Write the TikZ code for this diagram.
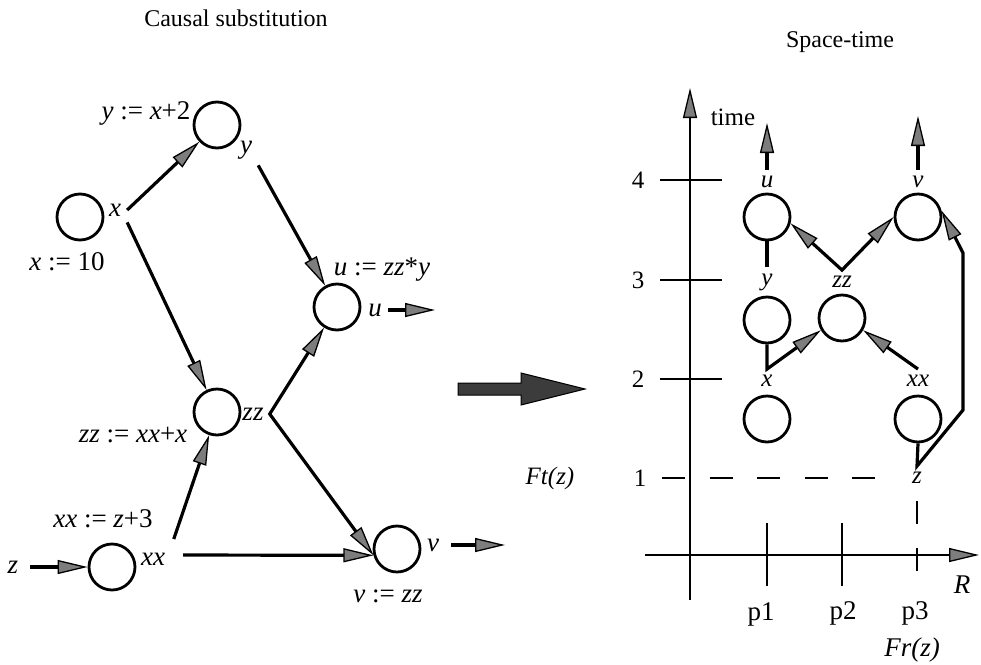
\documentclass[tikz,border=0pt]{standalone}
\usepackage{fontspec}
\setmainfont{Liberation Serif}
\usetikzlibrary{arrows.meta}
\definecolor{tipgray}{RGB}{125,125,125}
\definecolor{bigarrow}{RGB}{60,60,60}
\newcommand{\vn}[1]{\textit{#1}}

\begin{document}
\begin{tikzpicture}[x=1pt,y=-1pt,font=\fontsize{27}{31}\selectfont,
  gtip/.tip={Triangle[length=30pt,width=14pt,fill=tipgray,line width=1.3pt]},
  evt/.style={circle,draw,line width=2.8pt,minimum size=46pt,inner sep=0pt},
  tag/.style={inner sep=6pt},
  small/.style={font=\fontsize{25}{29}\selectfont},
  flow/.style={line width=3.2pt,-gtip},
  twoway/.style={line width=3.2pt,gtip-gtip},
  link/.style={line width=3.2pt},
  axis/.style={line width=2.8pt}]
\useasboundingbox (0,0) rectangle (981,664);

\node[font=\fontsize{24}{28}\selectfont] (ttlc) at (236,18) {Causal substitution};
\node[font=\fontsize{24}{28}\selectfont] (ttls) at (840,42) {Space-time};

\node[evt] (cx) at (80,217) {};
\node[evt] (cy) at (217,125) {};
\node[evt] (cu) at (337,307) {};
\node[evt] (czz) at (217,412) {};
\node[evt] (cxx) at (112,567) {};
\node[evt] (cv) at (397,549) {};

\node[tag] (tx) at (115,210) {\vn{x}};
\node (ax) at (67,262) {\vn{x} := 10};
\node (ay) at (146,113) {\vn{y} :=\ \vn{x}+2};
\node[tag] (ty) at (246,150) {\vn{y}};
\node (au) at (382,270) {\vn{u} := \vn{zz}*\vn{y}};
\node[tag] (tu) at (375,310) {\vn{u}};
\node[tag] (tzz) at (253,414) {\vn{zz}};
\node (azz) at (133,435) {\vn{zz} := \vn{xx}+\vn{x}};
\node (axx) at (103,519) {\vn{xx} := \vn{z}+3};
\node[tag] (txx) at (153,559) {\vn{xx}};
\node[tag] (tz) at (13,567) {\vn{z}};
\node[tag] (tv) at (433,545) {\vn{v}};
\node (av) at (388,596) {\vn{v} := \vn{zz}};

\coordinate (uout) at (435,310);
\coordinate (vout) at (505,545);
\draw[flow] (tx.east) -- (cy);
\draw[flow] (tx.south east) -- (czz);
\draw[flow] (ty.south east) -- (cu);
\draw[twoway] (cu) -- (tzz.east) -- (cv.195);
\draw[flow,shorten <=8pt] (txx.north east) -- (czz);
\draw[flow,shorten <=12pt] ([yshift=4pt]txx.east) -- (cv.195);
\draw[flow,shorten <=6pt] (tz.east) -- (cxx);
\draw[flow] (tu.east) -- (uout);
\draw[flow,shorten <=6pt] (tv.east) -- (vout);

\draw[fill=bigarrow,line width=1pt] (458,383) -- (521,383) -- (521,373) -- (585,389)
  -- (521,405) -- (521,395) -- (458,395) -- cycle;

\coordinate (tbot) at (690,600);
\coordinate (ttop) at (690,88);
\coordinate (rleft) at (645,555);
\coordinate (rright) at (979,555);
\draw[axis,-gtip] (tbot) -- (ttop);
\draw[axis,-gtip] (rleft) -- (rright);
\node[small] (ltime) at (733,117) {time};
\foreach \ty/\tl in {180/4,280/3,379/2} {
  \draw[axis] (660,\ty) -- (722,\ty);
  \node[small] (tick\tl) at (638,\ty) {\tl};
}
\node[small] (tick1) at (640,478) {1};
\node[small] (lft) at (550,478) {\vn{Ft(z)}};
\draw[axis,dash pattern=on 23pt off 24.5pt] (662,478) -- (876,478);
\foreach \px in {767,842} {
  \draw[axis] (\px,523) -- (\px,586);
}
\draw[axis,dash pattern=on 23pt off 24pt] (917,501) -- (917,572);
\node (lp1) at (761,614) {p1};
\node (lp2) at (843,613) {p2};
\node (lp3) at (915,613) {p3};
\node (lfr) at (912,650) {\vn{Fr(z)}};
\node (lr) at (962,585) {\vn{R}};

\node[evt] (ru) at (767,217) {};
\node[evt] (rv) at (918,217) {};
\node[evt] (ry) at (767,320) {};
\node[evt] (rzz) at (842,318) {};
\node[evt] (rx) at (767,419) {};
\node[evt] (rxx) at (918,419) {};

\node[tag,small] (sru) at (767,182) {\vn{u}};
\node[tag,small] (srv) at (918,182) {\vn{v}};
\node[tag,small] (sry) at (767,282) {\vn{y}};
\node[tag,small] (srzz) at (842,282) {\vn{zz}};
\node[tag,small] (srx) at (767,381) {\vn{x}};
\node[tag,small] (srxx) at (918,381) {\vn{xx}};
\node[tag,small] (srz) at (917,478) {\vn{z}};

\coordinate (uup) at (767,123);
\coordinate (vup) at (918,116);
\draw[flow] (sru.north) -- (uup);
\draw[flow] (srv.north) -- (vup);
\draw[link] (ru.south) -- (sry.north);
\draw[twoway] (ru.-15) -- (srzz.north) -- (rv.west);
\draw[flow] (ry.south) -- (srx.north) -- (rzz.210);
\draw[flow] (srxx.north) -- (rzz.-30);
\draw[flow] (rxx.south) -- (srz.north) -- (963,410) -- (963,253) -- (rv.15);
\end{tikzpicture}
\end{document}
